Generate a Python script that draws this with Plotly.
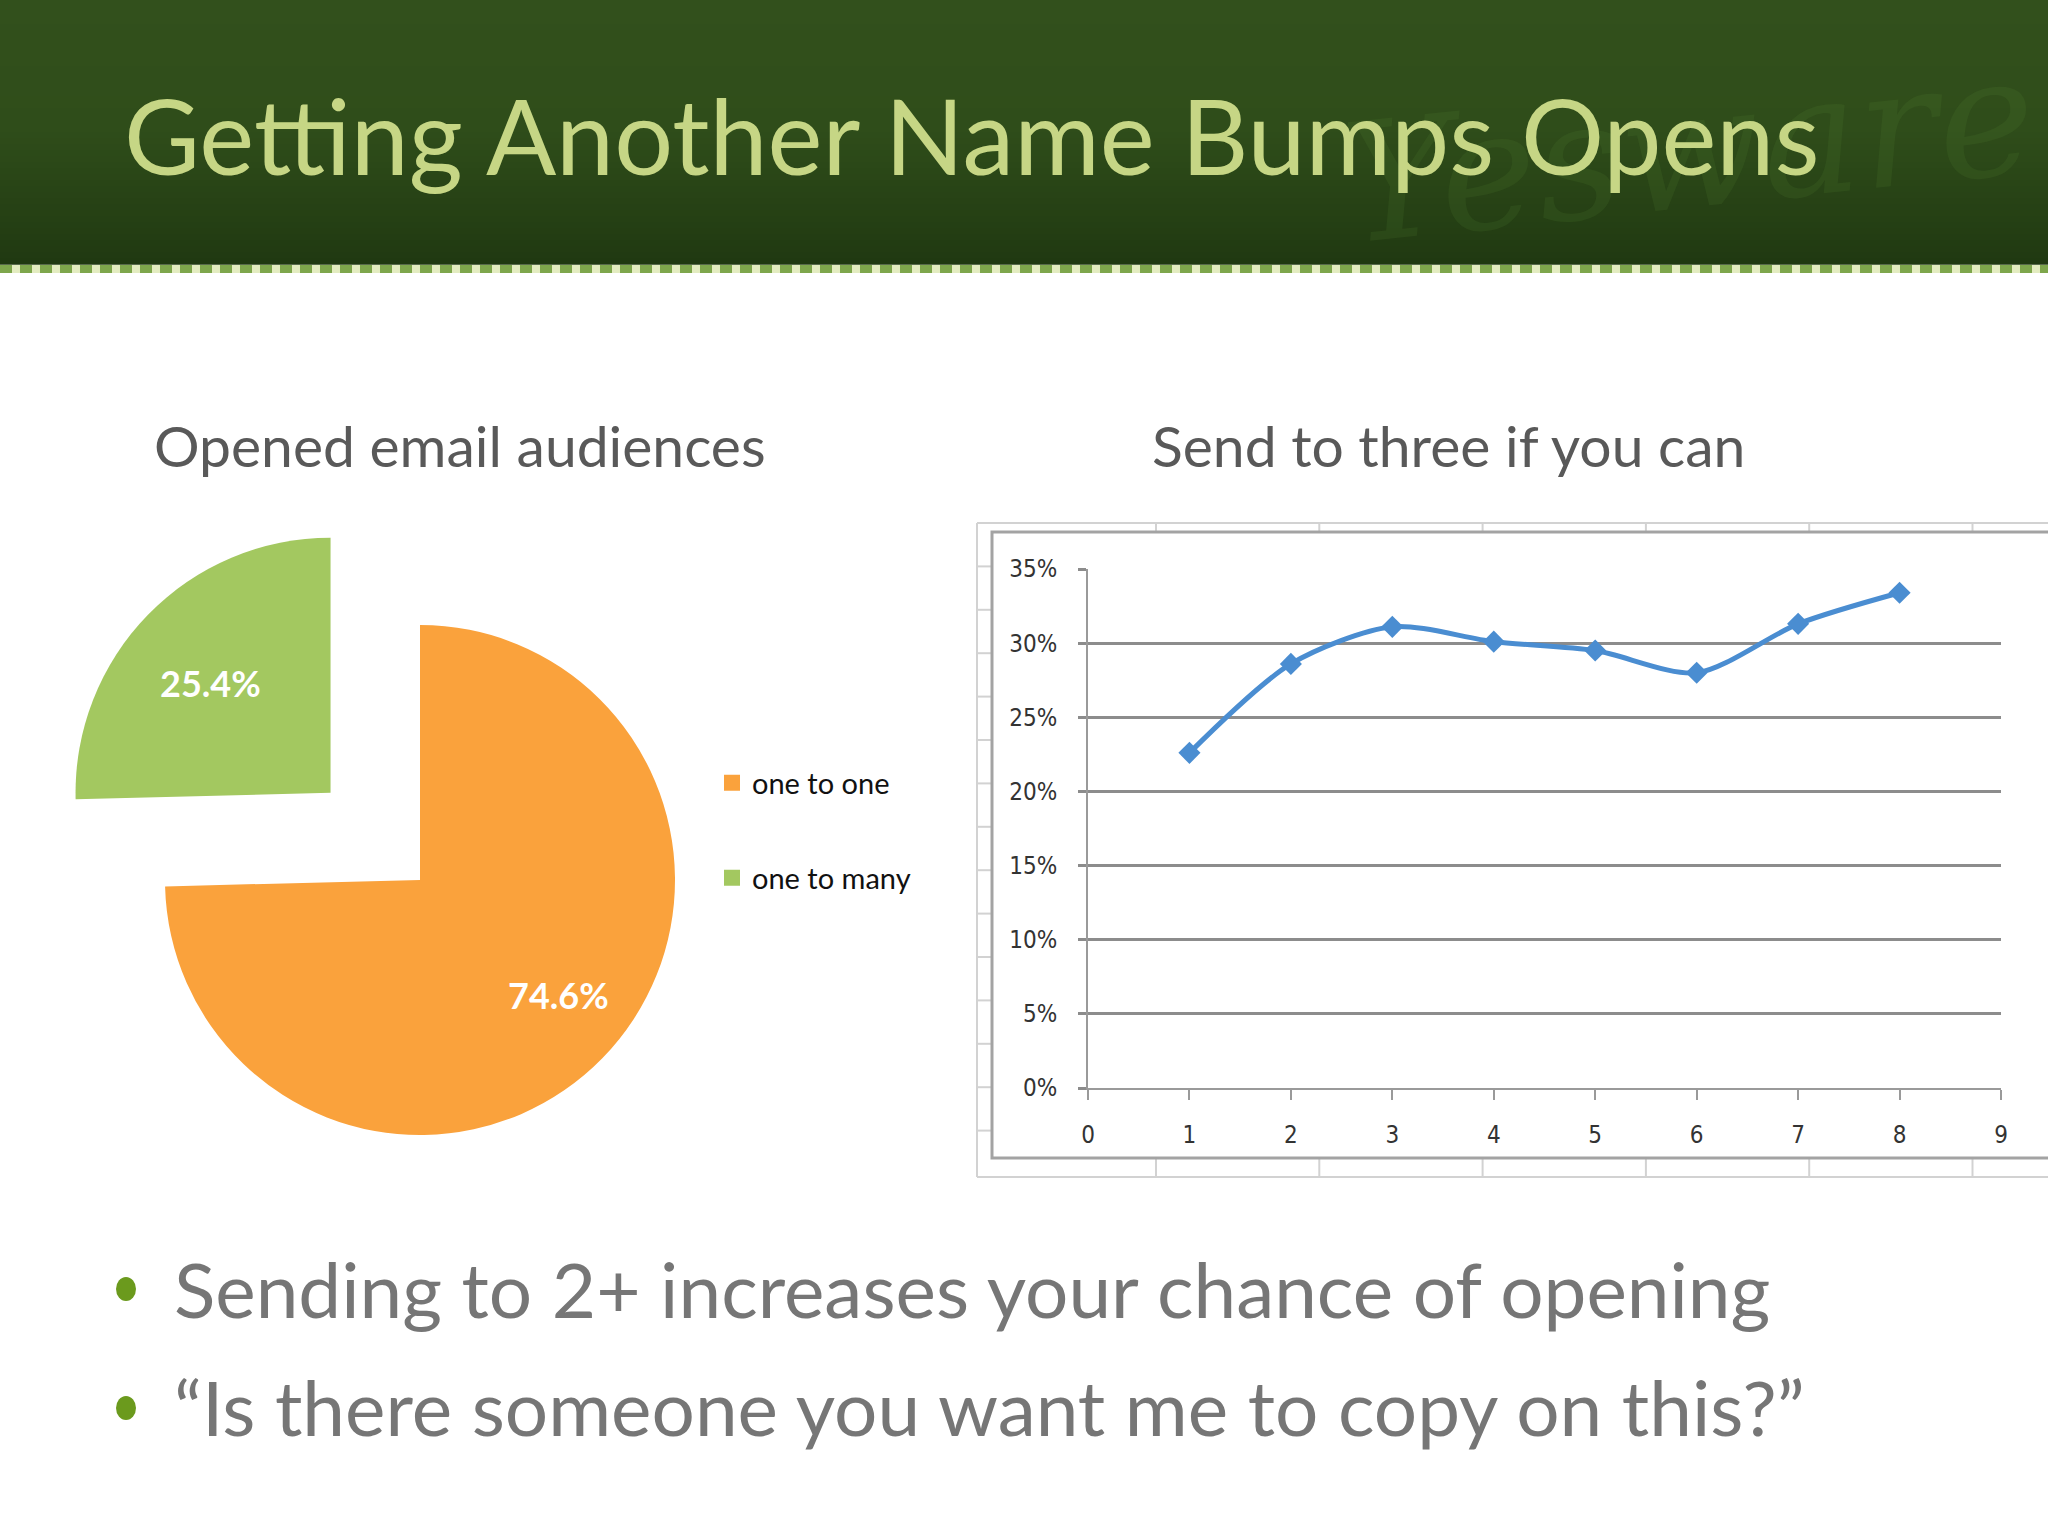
import math
import plotly.graph_objects as go

W, H = 2048, 1536

# ---------------- data ----------------
pie_labels = ["one to one", "one to many"]
pie_values = [74.6, 25.4]
pie_colors = ["#FAA23C", "#A3C860"]

recipients = [1, 2, 3, 4, 5, 6, 7, 8]
open_rate = [0.226, 0.286, 0.311, 0.301, 0.295, 0.280, 0.313, 0.334]

y_ticks = [0, 0.05, 0.10, 0.15, 0.20, 0.25, 0.30, 0.35]
y_tick_text = ["0%", "5%", "10%", "15%", "20%", "25%", "30%", "35%"]
x_ticks = [0, 1, 2, 3, 4, 5, 6, 7, 8, 9]

title_text = "Getting Another Name Bumps Opens"
pie_title = "Opened email audiences"
line_title = "Send to three if you can"
bullets = ["Sending to 2+ increases your chance of opening",
           "\u201cIs there someone you want me to copy on this?\u201d"]


def fx(p):
    return p / W


def fy(p):
    return 1 - p / H


fig = go.Figure()

# ---------------- pie ----------------
cx, cy, r, pull = 420, 880, 255, 0.49
pulls = [0, pull]
label_radius = [0.705, 0.64]
label_angle_shift = [-4.7, -1.8]  # degrees
half = r * (1 + pull)
fig.add_trace(go.Pie(
    labels=pie_labels, values=pie_values, sort=False, direction="clockwise",
    rotation=0, pull=pulls,
    marker=dict(colors=pie_colors, line=dict(width=0)),
    textinfo="none", textposition="none",
    domain=dict(x=[fx(cx - half), fx(cx + half)], y=[fy(cy + half), fy(cy - half)]),
    showlegend=False, hoverinfo="label+percent",
))

# percentage labels placed along each slice's mid-angle
annotations = []
total = sum(pie_values)
start = 0.0
for v, p, lr, da in zip(pie_values, pulls, label_radius, label_angle_shift):
    frac = v / total
    mid = (start + frac / 2) * 2 * math.pi
    start += frac
    ox, oy = cx + p * r * math.sin(mid), cy - p * r * math.cos(mid)
    la = mid + math.radians(da)
    lx, ly = ox + lr * r * math.sin(la), oy - lr * r * math.cos(la)
    annotations.append(dict(text="<b>%.1f%%</b>" % (100 * frac),
                            x=fx(lx), y=fy(ly), xanchor="center", yanchor="middle",
                            showarrow=False,
                            font=dict(family="Lato", size=36, color="white")))

# legend entries for pie categories
for i, (lab, col) in enumerate(zip(pie_labels, pie_colors)):
    fig.add_trace(go.Scatter(
        x=[None], y=[None], mode="markers", name=lab,
        marker=dict(symbol="square", size=17, color=col),
        legend="legend" if i == 0 else "legend2", showlegend=True,
    ))

# ---------------- line chart ----------------
fig.add_trace(go.Scatter(
    x=recipients, y=open_rate, mode="lines+markers",
    line=dict(color="#4A8DD1", width=5, shape="spline", smoothing=0.8),
    marker=dict(symbol="diamond", size=17, color="#4A8DD1"),
    showlegend=False,
))

axis_gray = "#9a9a9a"
tick_font = dict(family="Liberation Sans Narrow, DejaVu Sans Condensed, Arial Narrow", size=24, color="#333333")
fig.update_xaxes(
    range=[0, 9], domain=[fx(1088), fx(2001)], tickvals=x_ticks, automargin=False,
    showgrid=False, zeroline=False, showline=True, linecolor=axis_gray, linewidth=2,
    ticks="outside", ticklen=10, tickwidth=2, tickcolor=axis_gray,
    tickfont=tick_font, ticklabelstandoff=14,
)
fig.update_yaxes(
    range=[0, 0.35], domain=[fy(1088), fy(569)], tickvals=y_ticks, ticktext=y_tick_text,
    automargin=False,
    showgrid=True, gridcolor="#8c8c8c", gridwidth=2.5, zeroline=False,
    showline=True, linecolor=axis_gray, linewidth=2,
    ticks="outside", ticklen=8, tickwidth=2.5, tickcolor="#8c8c8c",
    tickfont=tick_font, ticklabelstandoff=16,
)

shapes = []

# header gradient
stops = [(0, (50, 80, 28)), (130, (47, 77, 26)), (264, (32, 57, 17))]
n = 44
for k in range(n):
    y0 = 264 * k / n
    y1 = 264 * (k + 1) / n + 0.8
    ym = (y0 + y1) / 2
    for (a, ca), (b, cb) in zip(stops[:-1], stops[1:]):
        if a <= ym <= b:
            t = (ym - a) / (b - a)
            c = tuple(int(round(ca[j] + (cb[j] - ca[j]) * t)) for j in range(3))
            break
    shapes.append(dict(type="rect", xref="paper", yref="paper", x0=0, x1=1,
                       y0=fy(y1), y1=fy(y0), fillcolor="rgb(%d,%d,%d)" % c,
                       line=dict(width=0), layer="below"))
# dotted rule under header
shapes.append(dict(type="line", xref="paper", yref="paper", x0=0, x1=1,
                   y0=fy(269), y1=fy(269), line=dict(color="#e3ecc0", width=8), layer="below"))
shapes.append(dict(type="line", xref="paper", yref="paper", x0=0, x1=1,
                   y0=fy(269), y1=fy(269), line=dict(color="#7ea64c", width=8, dash="12px,8px"),
                   layer="below"))

# spreadsheet cell grid around the chart
sheet = "#d2d2d2"
shapes += [
    dict(type="line", xref="paper", yref="paper", x0=fx(977), x1=1, y0=fy(523), y1=fy(523),
         line=dict(color=sheet, width=2)),
    dict(type="line", xref="paper", yref="paper", x0=fx(977), x1=1, y0=fy(1177), y1=fy(1177),
         line=dict(color=sheet, width=2)),
    dict(type="line", xref="paper", yref="paper", x0=fx(977), x1=fx(977), y0=fy(523), y1=fy(1177),
         line=dict(color=sheet, width=2)),
]
for k in range(6):
    xc = 1156 + k * 163.3
    for a, b in [(523, 532), (1158, 1177)]:
        shapes.append(dict(type="line", xref="paper", yref="paper", x0=fx(xc), x1=fx(xc),
                           y0=fy(a), y1=fy(b), line=dict(color=sheet, width=2)))
for k in range(1, 15):
    yc = 523 + k * 43.4
    shapes.append(dict(type="line", xref="paper", yref="paper", x0=fx(977), x1=fx(992),
                       y0=fy(yc), y1=fy(yc), line=dict(color=sheet, width=2)))
# chart area frame
shapes.append(dict(type="rect", xref="paper", yref="paper", x0=fx(992), x1=fx(2060),
                   y0=fy(1158), y1=fy(532), line=dict(color="#a3a3a3", width=3),
                   fillcolor="rgba(0,0,0,0)"))

# bullets
for yc in [1289, 1408]:
    shapes.append(dict(type="circle", xref="paper", yref="paper",
                       x0=fx(116), x1=fx(136), y0=fy(yc + 12), y1=fy(yc - 12),
                       fillcolor="#6B9A1D", line=dict(width=0)))

annotations += [
    dict(text="Yesware", x=fx(2046), y=fy(150), xanchor="right", yanchor="middle",
         showarrow=False, textangle=-6,
         font=dict(family="DejaVu Serif", style="italic", size=165, color="rgba(95,145,55,0.14)")),
    dict(text=title_text, x=fx(122), y=fy(134), xanchor="left", yanchor="middle", showarrow=False,
         font=dict(family="Lato", size=104, color="#C6D685")),
    dict(text=pie_title, x=fx(152), y=fy(445), xanchor="left", yanchor="middle", showarrow=False,
         font=dict(family="Lato", size=57, color="#595959")),
    dict(text=line_title, x=fx(1150), y=fy(445), xanchor="left", yanchor="middle", showarrow=False,
         font=dict(family="Lato", size=57, color="#595959")),
]
for t, yc in zip(bullets, [1288, 1406]):
    annotations.append(dict(text=t, x=fx(172), y=fy(yc), xanchor="left", yanchor="middle",
                            showarrow=False, font=dict(family="Lato", size=76.5, color="#767676")))
for a in annotations:
    a["xref"] = "paper"
    a["yref"] = "paper"

legend_font = dict(family="Lato", size=29, color="#111111")
fig.update_layout(
    width=W, height=H, margin=dict(l=0, r=0, t=0, b=0, pad=0, autoexpand=False),
    paper_bgcolor="white", plot_bgcolor="white",
    shapes=shapes, annotations=annotations,
    legend=dict(x=fx(712), y=fy(783), xanchor="left", yanchor="middle", font=legend_font,
                bgcolor="rgba(0,0,0,0)", borderwidth=0),
    legend2=dict(x=fx(712), y=fy(878), xanchor="left", yanchor="middle", font=legend_font,
                 bgcolor="rgba(0,0,0,0)", borderwidth=0),
)

fig.write_html("out.html", config={"displayModeBar": False},
               post_script="document.body.style.margin='0';document.body.style.overflow='hidden';")
